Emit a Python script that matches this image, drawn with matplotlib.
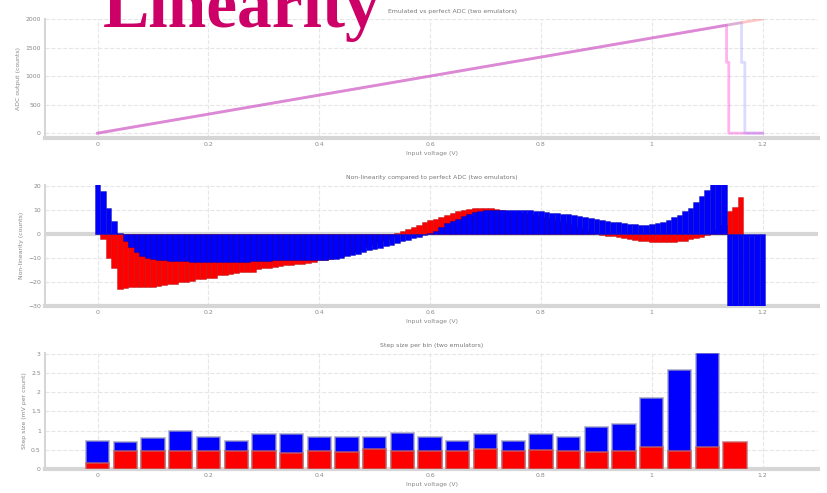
import numpy as np
import matplotlib.pyplot as plt

# ADC transfer curve (counts) for the ideal converter and two emulators
ideal_v = [0, 0.1, 0.2, 0.3, 0.4, 0.5, 0.6, 0.7, 0.8, 0.9, 1.0, 1.1, 1.2]
ideal_counts = [0, 167, 333, 500, 667, 833, 1000, 1167, 1333, 1500, 1667, 1833, 2000]

emu_a_v = [0, 0.1, 0.2, 0.3, 0.4, 0.5, 0.6, 0.7, 0.8, 0.9, 1.0, 1.1, 1.135, 1.135, 1.139, 1.139, 1.2]
emu_a_counts = [0, 167, 333, 500, 667, 833, 1000, 1167, 1333, 1500, 1667, 1833, 1892, 1240, 1240, 0, 0]

emu_b_v = [0, 0.1, 0.2, 0.3, 0.4, 0.5, 0.6, 0.7, 0.8, 0.9, 1.0, 1.1, 1.162, 1.162, 1.168, 1.168, 1.2]
emu_b_counts = [0, 167, 333, 500, 667, 833, 1000, 1167, 1333, 1500, 1667, 1833, 1937, 1240, 1240, 0, 0]

# non-linearity, sampled every 10 mV
nl_v = np.round(np.arange(121) * 0.01, 2)
nl_blue = [
    22, 18, 11, 5.5, 0.5, -3, -5.5, -7.5, -9, -10,
    -10.5, -11, -11, -11.2, -11.3, -11.3, -11.4, -11.5, -11.5, -11.5,
    -11.5, -11.5, -11.6, -11.6, -11.6, -11.5, -11.5, -11.5, -11.4, -11.3,
    -11.2, -11.1, -11, -10.9, -10.8, -10.8, -10.8, -10.8, -10.8, -10.7,
    -10.7, -10.6, -10.5, -10.3, -10, -9.3, -8.8, -8.3, -7.5, -6.8,
    -6.2, -5.6, -5, -4.4, -3.6, -3, -2.3, -1.6, -1, -0.4,
    0.5, 1.5, 3, 4.5, 5.5, 6.5, 7.5, 8.5, 9.2, 9.6,
    10, 10, 10, 10, 10, 10, 10, 10, 9.9, 9.8,
    9.5, 9.2, 9, 8.7, 8.5, 8.3, 8, 7.6, 7.2, 6.8,
    6.4, 6, 5.6, 5.2, 4.9, 4.6, 4.3, 4.1, 4, 4,
    4.1, 4.5, 5.2, 6, 7, 8, 9.5, 11, 13.5, 16,
    18.5, 21, 22, 22,
    -1900, -1917, -1933, -1950, -1967, -1983, -2000,
]
nl_red = [
    0, -2, -10, -14, -23, -22.5, -22, -22, -22, -22,
    -22, -21.5, -21.2, -21, -20.8, -20, -19.8, -19.6, -18.8, -18.6,
    -18.5, -18.3, -17.2, -17, -16.8, -16.2, -16, -16, -15.8, -14.5,
    -14.2, -14, -13.8, -13.3, -13, -12.8, -12.5, -12.3, -12, -11.5,
    -11, -10.6, -10.2, -9.8, -9.2, -8.5, -7.5, -6.5, -5.5, -4.5,
    -3.7, -3, -2.2, -1.2, 0.3, 1.5, 2.3, 3, 4, 5,
    5.8, 6.5, 7.2, 8, 9, 9.5, 10, 10.3, 10.8, 11,
    11, 10.7, 10.4, 10, 9.7, 9.3, 9, 8.6, 8.2, 7.8,
    7.3, 6.8, 6.2, 5.6, 5, 4.2, 3.4, 2.6, 1.8, 1,
    0.2, -0.3, -0.6, -0.8, -1.2, -1.6, -2, -2.3, -2.7, -3,
    -3.3, -3.4, -3.4, -3.3, -3.2, -3, -2.7, -2.2, -1.6, -1,
    -0.5, 0.5, 2, 4, 9.5, 11.5, 15.5,
]

# step size per 50 mV bin
step_v = np.round(np.arange(24) * 0.05, 2)
step_blue = [0.72, 0.70, 0.82, 0.98, 0.84, 0.73, 0.91, 0.91, 0.84, 0.84, 0.84, 0.93,
             0.84, 0.73, 0.91, 0.73, 0.91, 0.84, 1.09, 1.17, 1.84, 2.59, 3.02]
step_red = [0.15, 0.47, 0.47, 0.47, 0.47, 0.47, 0.47, 0.41, 0.47, 0.43, 0.52, 0.47,
            0.47, 0.47, 0.52, 0.47, 0.49, 0.47, 0.45, 0.47, 0.58, 0.47, 0.58, 0.70]

xticks = [0, 0.2, 0.4, 0.6, 0.8, 1.0, 1.2]
xticklabels = ["0", "0.2", "0.4", "0.6", "0.8", "1", "1.2"]

W, H = 827, 493
fig = plt.figure(figsize=(W / 100, H / 100), dpi=100)
grey = "#d6d6d6"
fs = 4.4


def box(top, bottom):
    return [45 / W, 1 - bottom / H, (818 - 45) / W, (bottom - top) / H]


def style(ax, title, ylabel, title_x=0.5):
    ax.set_xlim(-0.095, 1.3)
    ax.set_xticks(xticks)
    ax.set_xticklabels(xticklabels)
    ax.grid(True, color="#e6e6e6", linestyle="--", linewidth=0.8)
    ax.set_axisbelow(True)
    for s in ["top", "right"]:
        ax.spines[s].set_visible(False)
    ax.spines["left"].set_color(grey)
    ax.spines["left"].set_linewidth(1.5)
    ax.spines["bottom"].set_color(grey)
    ax.spines["bottom"].set_linewidth(3)
    ax.tick_params(length=0, labelsize=fs, labelcolor="#888888", pad=3)
    ax.set_title(title, fontsize=fs, color="#777777", pad=4, x=title_x)
    ax.set_xlabel("Input voltage (V)", fontsize=fs, color="#888888", labelpad=3)
    ax.set_ylabel(ylabel, fontsize=fs, color="#888888", labelpad=3)


# transfer curve
ax1 = fig.add_axes(box(19, 138))
ax1.plot(ideal_v, ideal_counts, color="#ff6060", alpha=0.35, lw=2)
ax1.plot(emu_a_v, emu_a_counts, color="#ff40d0", alpha=0.4, lw=2)
ax1.plot(emu_b_v, emu_b_counts, color="#7070ff", alpha=0.25, lw=2)
ax1.set_ylim(-85, 2000)
ax1.set_yticks([0, 500, 1000, 1500, 2000])
style(ax1, "Emulated vs perfect ADC (two emulators)", "ADC output (counts)", title_x=0.527)

# non-linearity
ax2 = fig.add_axes(box(185, 306))
ax2.bar(nl_v[:len(nl_red)], nl_red, width=0.01, color="red",
        edgecolor=(0.6, 0, 0, 0.5), linewidth=0.5, zorder=2)
ax2.bar(nl_v, nl_blue, width=0.01, color="blue",
        edgecolor=(0, 0, 0.55, 0.5), linewidth=0.5, zorder=3)
ax2.axhline(0, color=grey, lw=3, zorder=1)
ax2.set_ylim(-30, 20.5)
ax2.set_yticks([-30, -20, -10, 0, 10, 20])
style(ax2, "Non-linearity compared to perfect ADC (two emulators)", "Non-linearity (counts)")

# step size
ax3 = fig.add_axes(box(353, 469))
ax3.bar(step_v[:len(step_blue)], step_blue, width=0.042, color="blue",
        edgecolor=(0.6, 0.6, 0.75, 0.8), linewidth=1.2, zorder=2)
ax3.bar(step_v, step_red, width=0.042, color="red",
        edgecolor=(0.75, 0.4, 0.4, 0.8), linewidth=1.2, zorder=3)
ax3.set_ylim(0, 3.02)
ax3.set_yticks([0, 0.5, 1, 1.5, 2, 2.5, 3])
ax3.set_yticklabels(["0", "0.5", "1", "1.5", "2", "2.5", "3"])
style(ax3, "Step size per bin (two emulators)", "Step size (mV per count)")

fig.text(103 / W, 1 - 27 / H, "Linearity", color="#cc0066", fontsize=50,
         fontweight="bold", family="Liberation Serif", va="baseline", zorder=10)

fig.savefig("out.png", dpi=100)
